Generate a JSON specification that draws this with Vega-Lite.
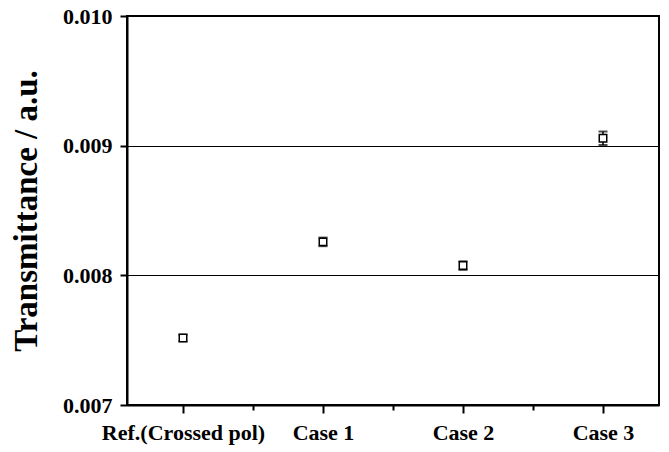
{
  "$schema": "https://vega.github.io/schema/vega-lite/v6.json",
  "width": 532,
  "height": 389,
  "autosize": {"type": "none"},
  "padding": {"left": 127, "top": 16, "right": 10, "bottom": 47},
  "background": "white",
  "config": {
    "view": {"stroke": "black", "strokeWidth": 2},
    "font": "Liberation Serif"
  },
  "data": {
    "values": [
      {"label": "Ref.(Crossed pol)", "x": 1, "y": 0.007517, "lo": 0.007492, "hi": 0.007542},
      {"label": "Case 1", "x": 2, "y": 0.008258, "lo": 0.008225, "hi": 0.008291},
      {"label": "Case 2", "x": 3, "y": 0.008075, "lo": 0.008042, "hi": 0.008108},
      {"label": "Case 3", "x": 4, "y": 0.009057, "lo": 0.009005, "hi": 0.009109}
    ]
  },
  "encoding": {
    "x": {
      "field": "x",
      "type": "quantitative",
      "scale": {"domain": [0.6, 4.4], "nice": false, "zero": false},
      "axis": {
        "title": null,
        "values": [1, 1.5, 2, 2.5, 3, 3.5, 4],
        "labelExpr": "datum.value == 1 ? 'Ref.(Crossed pol)' : datum.value == 2 ? 'Case 1' : datum.value == 3 ? 'Case 2' : datum.value == 4 ? 'Case 3' : ''",
        "grid": false,
        "domainColor": "black",
        "domainWidth": 2,
        "tickColor": "black",
        "tickWidth": 2,
        "tickSize": {"condition": {"test": "datum.value % 1 != 0", "value": 5}, "value": 8},
        "labelFont": "Liberation Serif",
        "labelFontWeight": "bold",
        "labelFontSize": 22,
        "labelColor": "black",
        "labelPadding": 9,
        "labelFlush": false,
        "labelOverlap": false
      }
    }
  },
  "layer": [
    {
      "mark": {"type": "rule", "color": "black", "strokeWidth": 1.5},
      "encoding": {
        "y": {
          "field": "lo",
          "type": "quantitative",
          "scale": {"domain": [0.007, 0.01], "nice": false, "zero": false},
          "axis": {
            "title": "Transmittance / a.u.",
            "values": [0.007, 0.008, 0.009, 0.01],
            "format": ".3f",
            "grid": true,
            "gridColor": "black",
            "gridWidth": 1,
            "gridOpacity": 1,
            "domainColor": "black",
            "domainWidth": 2,
            "tickColor": "black",
            "tickWidth": 2,
            "tickSize": 7,
            "labelFont": "Liberation Serif",
            "labelFontWeight": "bold",
            "labelFontSize": 22,
            "labelColor": "black",
            "labelPadding": 8,
            "titleFont": "Liberation Serif",
            "titleFontWeight": "bold",
            "titleFontSize": 33,
            "titleColor": "black",
            "titlePadding": 19
          }
        },
        "y2": {"field": "hi"}
      }
    },
    {
      "mark": {"type": "tick", "orient": "horizontal", "color": "black", "thickness": 2, "size": 9},
      "encoding": {"y": {"field": "lo", "type": "quantitative"}}
    },
    {
      "mark": {"type": "tick", "orient": "horizontal", "color": "black", "thickness": 2, "size": 9},
      "encoding": {"y": {"field": "hi", "type": "quantitative"}}
    },
    {
      "mark": {"type": "point", "shape": "square", "filled": false, "fill": "white", "fillOpacity": 1, "stroke": "black", "strokeWidth": 1.5, "size": 56, "opacity": 1},
      "encoding": {"y": {"field": "y", "type": "quantitative"}}
    }
  ]
}
